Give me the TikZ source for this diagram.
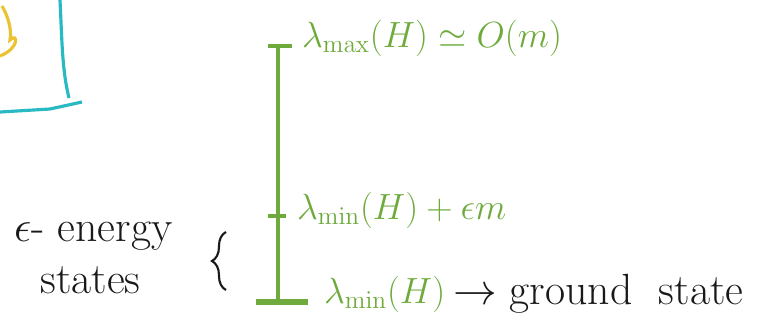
\documentclass[tikz,border=0pt]{standalone}
\usepackage{xcolor}
\usepackage{amsmath}
\usepackage{tikz}
\usetikzlibrary{positioning, calc, decorations.pathreplacing}
\definecolor{mygreen}{RGB}{110,170,60}
\definecolor{mycyan}{RGB}{40,185,195}
\definecolor{myyellow}{RGB}{235,195,50}
\definecolor{mydark}{RGB}{25,25,25}
\tikzset{
  level/.style={mygreen, line width=1.8pt},
  axis/.style={mygreen, line width=1.8pt},
  glabel/.style={text=mygreen, font=\huge, anchor=west, inner sep=1pt},
  klabel/.style={text=mydark, font=\Huge, inner sep=1pt},
  frame/.style={mycyan, line width=1.8pt},
  sketch/.style={myyellow, line width=1.8pt}
}

\begin{document}
\begin{tikzpicture}[x=0.02cm, y=-0.02cm]
  \useasboundingbox (0,0) rectangle (765,322);

  % Leftover sketch (top left)
  \draw[sketch] (2,6) .. controls (8,16) and (12,30) .. (10,40)
    .. controls (18,32) and (20,48) .. (0,56);
  \draw[frame] (60,0) .. controls (62,40) and (62,70) .. (69,98);
  \draw[frame] (0,112) -- (50,109) -- (82,102);

  % Energy axis
  \coordinate (top) at (278,46);
  \coordinate (mid) at (278,216);
  \coordinate (bot) at (278,302);
  \draw[axis] (top) -- (bot);

  % Levels
  \draw[level] ($(top)+(-10,0)$) -- ($(top)+(14,0)$);
  \draw[level] ($(mid)+(-10,0)$) -- ($(mid)+(8,0)$);
  \draw[level, line width=3.5pt] ($(bot)+(-22,0)$) -- ($(bot)+(30,0)$);

  % Labels
  \node[glabel] (lmax) at (300,38) {$\lambda_{\max}(H) \simeq O(m)$};
  \node[glabel] (lmid) at (295,210) {$\lambda_{\min}(H) + \epsilon m$};
  \node[glabel] (lmin) at (322,294) {$\lambda_{\min}(H)$};
  \node[klabel, right=2pt of lmin] (gs) {$\rightarrow$ ground\ \ state};

  % Epsilon-energy states
  \node[klabel, align=left, anchor=west] (eps) at (12,258) {$\epsilon$- energy\\\ \ states};
  \draw[mydark, line width=1.2pt, decorate, decoration={brace, amplitude=8pt}]
    (226,290) -- (226,232);
\end{tikzpicture}
\end{document}
